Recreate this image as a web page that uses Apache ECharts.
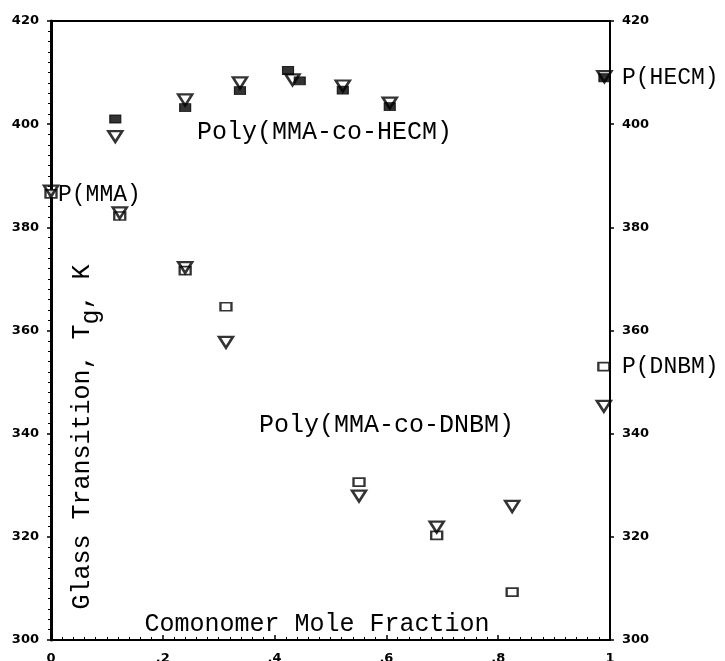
<!DOCTYPE html>
<html><head><meta charset="utf-8">
<script src="https://cdn.jsdelivr.net/npm/echarts@6/dist/echarts.min.js"></script>
<style>html,body{margin:0;padding:0;background:#fff}#c{width:725px;height:661px}</style>
</head><body><div id="c"></div>
<script>
// ---- data ----
const xTickLabels = ['0', '.2', '.4', '.6', '.8', '1'];
const yTickValues = [300, 320, 340, 360, 380, 400, 420];

// Poly(MMA-co-HECM)
const hecmSqX  = [0.115, 0.240, 0.338, 0.424, 0.445, 0.522, 0.606, 0.990];
const hecmSqY  = [401.0, 403.2, 406.5, 410.4, 408.4, 406.6, 403.4, 409.0];
const hecmTriX = [0.115, 0.240, 0.338, 0.432, 0.522, 0.606, 0.990];
const hecmTriY = [397.6, 404.7, 408.0, 408.6, 407.4, 404.1, 409.2];

// Poly(MMA-co-DNBM)
const dnbmSqX  = [0.000, 0.123, 0.240, 0.313, 0.551, 0.690, 0.825, 0.989];
const dnbmSqY  = [386.5, 382.2, 371.6, 364.6, 330.6, 320.3, 309.3, 353.0];
const dnbmTriX = [0.000, 0.123, 0.240, 0.313, 0.551, 0.690, 0.825, 0.989];
const dnbmTriY = [387.0, 382.8, 372.2, 357.7, 327.9, 321.9, 325.9, 345.3];

// ---- chart ----
const pair = (xs, ys) => xs.map((x, i) => [x, ys[i]]);
const MONO = "'Courier New', Courier, 'Nimbus Mono PS', FreeMono, 'Liberation Mono', monospace";
const TICKF = "'DejaVu Sans', sans-serif";

const chart = echarts.init(document.getElementById('c'), null, {renderer: 'canvas'});

const triStyle = {color: 'rgba(255,255,255,0)', borderColor: '#000', borderWidth: 2.5};
const sqOpen = {color: '#fff', borderColor: '#000', borderWidth: 2};
const sqFill = {color: '#000', borderColor: '#000', borderWidth: 1};

const yLab = {color: '#000', fontFamily: TICKF, fontWeight: 'bold', fontSize: 13};

chart.setOption({
  backgroundColor: '#fff',
  animation: false,
  grid: {left: 51, right: 115, top: 21, bottom: 21, show: true, borderColor: '#000', borderWidth: 2,
         outerBoundsMode: 'none', containLabel: false},
  xAxis: {
    type: 'value', min: 0, max: 1, interval: 0.2,
    axisLine: {show: true, onZero: false, lineStyle: {color: '#000', width: 2}},
    axisTick: {show: true, inside: true, length: 5, lineStyle: {color: '#000', width: 1.5}},
    minorTick: {show: true, splitNumber: 10, length: 3, lineStyle: {color: '#000', width: 1}},
    splitLine: {show: false},
    axisLabel: {margin: 12, color: '#000', fontFamily: TICKF, fontWeight: 'bold', fontSize: 13,
      formatter: (v) => xTickLabels[Math.round(v / 0.2)]}
  },
  yAxis: [{
    type: 'value', min: 300, max: 420, interval: 20, position: 'left',
    axisLine: {show: true, lineStyle: {color: '#000', width: 3}},
    axisTick: {show: true, inside: false, length: 4, lineStyle: {color: '#000', width: 1.5}},
    minorTick: {show: true, splitNumber: 10, length: 3, lineStyle: {color: '#000', width: 1}},
    splitLine: {show: false},
    axisLabel: Object.assign({margin: 12, formatter: (v) => yTickValues.includes(v) ? String(v) : ''}, yLab)
  }, {
    type: 'value', min: 300, max: 420, interval: 20, position: 'right',
    axisLine: {show: true, lineStyle: {color: '#000', width: 2}},
    axisTick: {show: true, inside: false, length: 4, lineStyle: {color: '#000', width: 1.5}},
    splitLine: {show: false},
    axisLabel: Object.assign({margin: 12, formatter: (v) => String(v)}, yLab)
  }],
  series: [
    {type: 'scatter', name: 'DNBM sq', data: pair(dnbmSqX, dnbmSqY), symbol: 'rect', symbolSize: [11, 8], itemStyle: sqOpen, z: 3},
    {type: 'scatter', name: 'HECM sq', data: pair(hecmSqX, hecmSqY), symbol: 'rect', symbolSize: [11, 8], itemStyle: sqFill, z: 3},
    {type: 'scatter', name: 'DNBM tri', data: pair(dnbmTriX, dnbmTriY), symbol: 'triangle', symbolRotate: 180, symbolSize: [14, 11], itemStyle: triStyle, z: 4},
    {type: 'scatter', name: 'HECM tri', data: pair(hecmTriX, hecmTriY), symbol: 'triangle', symbolRotate: 180, symbolSize: [14, 11], itemStyle: triStyle, z: 4}
  ],
  graphic: [
    {type: 'text', x: 58, y: 195, style: {text: 'P(MMA)', font: '23px ' + MONO, fill: '#000', verticalAlign: 'middle'}},
    {type: 'text', x: 622, y: 78, style: {text: 'P(HECM)', font: '23px ' + MONO, fill: '#000', verticalAlign: 'middle'}},
    {type: 'text', x: 622, y: 367, style: {text: 'P(DNBM)', font: '23px ' + MONO, fill: '#000', verticalAlign: 'middle'}},
    {type: 'text', x: 197, y: 132, style: {text: 'Poly(MMA-co-HECM)', font: '25px ' + MONO, fill: '#000', verticalAlign: 'middle'}},
    {type: 'text', x: 259, y: 425, style: {text: 'Poly(MMA-co-DNBM)', font: '25px ' + MONO, fill: '#000', verticalAlign: 'middle'}},
    {type: 'text', x: 317, y: 624, style: {text: 'Comonomer Mole Fraction', font: '25px ' + MONO, fill: '#000', align: 'center', verticalAlign: 'middle'}},
    {type: 'text', x: 82, y: 437, rotation: Math.PI / 2,
     style: {text: '{a|Glass Transition, T}{s|g}{a|, K}', fill: '#000', align: 'center', verticalAlign: 'middle',
       rich: {a: {fontSize: 25, fontFamily: MONO, lineHeight: 44, fill: '#000'},
              s: {fontSize: 25, fontFamily: MONO, lineHeight: 20, verticalAlign: 'bottom', fill: '#000'}}}}
  ]
});
</script></body></html>
